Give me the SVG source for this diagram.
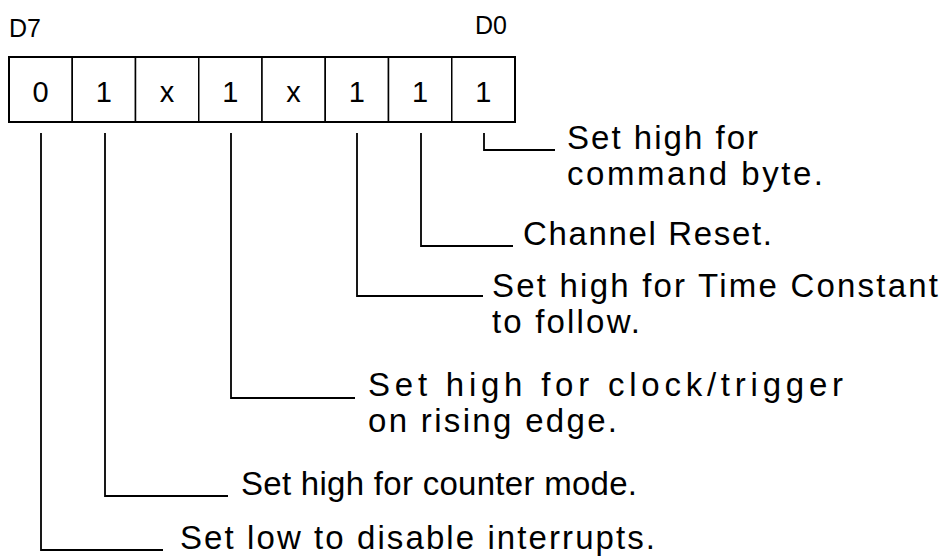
<svg xmlns="http://www.w3.org/2000/svg" width="946" height="557" viewBox="0 0 946 557">
  <style>
    .bg { fill: #ffffff; }
    .cell { fill: #ffffff; stroke: #000; stroke-width: 1.5; }
    .outer { fill: none; stroke: #000; stroke-width: 2; }
    .bit { font-family: "Liberation Sans", Arial, sans-serif; font-size: 29px; fill: #000; text-anchor: middle; }
    .hdr { font-family: "Liberation Sans", Arial, sans-serif; font-size: 25px; fill: #000; }
    .lbl { font-family: "Liberation Sans", Arial, sans-serif; font-size: 33px; fill: #000; }
    .conn { fill: none; stroke: #000; stroke-width: 1.8; }
  </style>
  <rect class="bg" x="0" y="0" width="946" height="557"/>

  <g id="register">
    <text class="hdr" x="9" y="37">D7</text>
    <text class="hdr" x="475" y="34">D0</text>
    <rect class="cell" x="9" y="57" width="63.25" height="65"/>
    <rect class="cell" x="72.25" y="57" width="63.25" height="65"/>
    <rect class="cell" x="135.5" y="57" width="63.25" height="65"/>
    <rect class="cell" x="198.75" y="57" width="63.25" height="65"/>
    <rect class="cell" x="262" y="57" width="63.25" height="65"/>
    <rect class="cell" x="325.25" y="57" width="63.25" height="65"/>
    <rect class="cell" x="388.5" y="57" width="63.25" height="65"/>
    <rect class="cell" x="451.75" y="57" width="63.25" height="65"/>
    <rect class="outer" x="9" y="57" width="506" height="65"/>
    <text class="bit" x="40.6" y="102">0</text>
    <text class="bit" x="103.9" y="102">1</text>
    <text class="bit" x="167.1" y="102">x</text>
    <text class="bit" x="230.4" y="102">1</text>
    <text class="bit" x="293.6" y="102">x</text>
    <text class="bit" x="356.9" y="102">1</text>
    <text class="bit" x="420.1" y="102">1</text>
    <text class="bit" x="483.4" y="102">1</text>
  </g>

  <g id="connectors">
    <polyline class="conn" points="484,133 484,150 555,150"/>
    <polyline class="conn" points="421,133 421,246 513,246"/>
    <polyline class="conn" points="357,133 357,296 483,296"/>
    <polyline class="conn" points="231,133 231,398 355,398"/>
    <polyline class="conn" points="105,133 105,496 228,496"/>
    <polyline class="conn" points="41,133 41,550 163,550"/>
  </g>

  <g id="label-d0">
    <text class="lbl" x="567" y="149" textLength="191" lengthAdjust="spacing">Set high for</text>
    <text class="lbl" x="567" y="185" textLength="256" lengthAdjust="spacing">command byte.</text>
  </g>
  <g id="label-d1">
    <text class="lbl" x="523" y="245" textLength="249" lengthAdjust="spacing">Channel Reset.</text>
  </g>
  <g id="label-d2">
    <text class="lbl" x="492" y="297" textLength="446" lengthAdjust="spacing">Set high for Time Constant</text>
    <text class="lbl" x="492" y="333" textLength="148" lengthAdjust="spacing">to follow.</text>
  </g>
  <g id="label-d4">
    <text class="lbl" x="368" y="396" textLength="475" lengthAdjust="spacing">Set high for clock/trigger</text>
    <text class="lbl" x="368" y="432" textLength="249" lengthAdjust="spacing">on rising edge.</text>
  </g>
  <g id="label-d6">
    <text class="lbl" x="241" y="495" textLength="396" lengthAdjust="spacing">Set high for counter mode.</text>
  </g>
  <g id="label-d7">
    <text class="lbl" x="180" y="549" textLength="475" lengthAdjust="spacing">Set low to disable interrupts.</text>
  </g>
</svg>
